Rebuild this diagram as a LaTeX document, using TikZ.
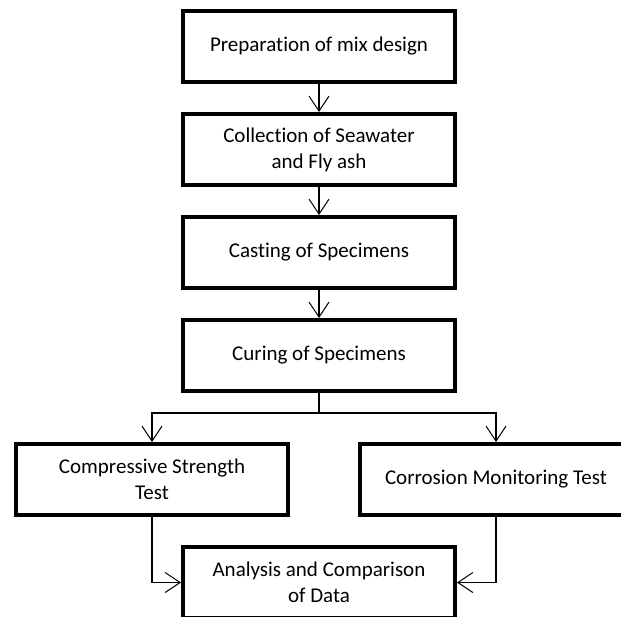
\documentclass[tikz,border=0pt]{standalone}
\usepackage{fontspec}
\setmainfont{Carlito}[Ligatures=NoCommon]
\usetikzlibrary{arrows.meta, positioning}

\begin{document}
\begin{tikzpicture}[
    x=1bp, y=1bp,
    node distance=28bp,
    stage/.style={draw, line width=4bp, fill=white, minimum width=272bp, minimum height=71bp,
                  font=\fontsize{21bp}{26bp}\selectfont, align=center, inner sep=2bp},
    arr/.style={-{Straight Barb[length=15bp, width=20bp, line width=1bp]}, line width=1.2bp},
]
\useasboundingbox (0,0) rectangle (621,-617);
\clip (0,0) rectangle (621,-617);

% Main sequence
\node[stage] (prep) at (319,-46.5) {Preparation of mix design};
\node[stage, below=of prep]   (coll) {Collection of Seawater\\and Fly ash};
\node[stage, below=of coll]   (cast) {Casting of Specimens};
\node[stage, below=of cast]   (cure) {Curing of Specimens};

% Tests
\node[stage, below=49bp of cure, xshift=-167bp] (comp) {Compressive Strength\\Test};
\node[stage, below=49bp of cure, xshift=177bp]  (corr) {Corrosion Monitoring Test};

% Analysis
\node[stage, below=152bp of cure] (ana) {Analysis and Comparison\\of Data};

% Arrows
\draw[arr] (prep) -- (coll);
\draw[arr] (coll) -- (cast);
\draw[arr] (cast) -- (cure);
\draw[arr] (cure.south) -- ++(0,-20) -| (comp.north);
\draw[arr] (cure.south) -- ++(0,-20) -| (corr.north);
\draw[arr] (comp.south) |- (ana.west);
\draw[arr] (corr.south) |- (ana.east);
\end{tikzpicture}
\end{document}
